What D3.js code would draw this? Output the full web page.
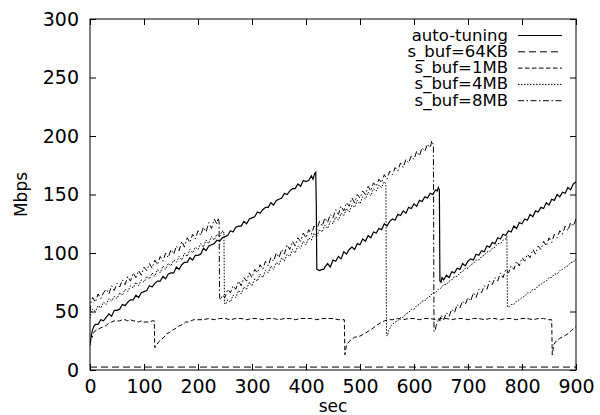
<!DOCTYPE html>
<html><head><meta charset="utf-8">
<script src="https://cdn.jsdelivr.net/npm/d3@7"></script>
<style>
html,body{margin:0;padding:0;background:#fff;}
svg{display:block;}
text{font-family:"DejaVu Sans",sans-serif;fill:#000;}
</style></head>
<body>
<svg id="chart" width="600" height="415"></svg>
<script>
// ---- data (sec, Mbps) ----
const xTicks = [0,100,200,300,400,500,600,700,800,900];
const yTicks = [0,50,100,150,200,250,300];
const seriesNames = ["auto-tuning","s_buf=64KB","s_buf=1MB","s_buf=4MB","s_buf=8MB"];

const autoTuning = [[0,21],[2,28],[4,33],[6,36],[8,38],[10,39],[15,39],[20,43],[25,42],[30,45],[35,48],[40,46],[45,51],[50,51],[55,52],[60,56],[65,55],[70,58],[75,60],[80,60],[85,64],[90,62],[95,66],[100,67],[105,68],[110,72],[115,71],[120,74],[125,76],[130,76],[135,80],[140,78],[145,82],[150,83],[155,83],[160,88],[165,86],[170,90],[175,92],[180,92],[185,96],[190,94],[195,98],[200,98],[205,99],[210,104],[215,102],[220,106],[225,107],[230,108],[235,111],[240,110],[245,113],[250,114],[255,115],[260,119],[265,118],[270,122],[275,123],[280,123],[285,127],[290,125],[295,129],[300,130],[305,131],[310,135],[315,134],[320,137],[325,139],[330,139],[335,143],[340,141],[345,145],[350,146],[355,147],[360,151],[365,150],[370,153],[375,155],[380,155],[385,159],[390,157],[395,162],[400,161],[405,162],[410,166],[413,163],[416,168],[418,169],[419,143],[420,86],[425,85],[430,86],[433,86],
[435,88],[440,91],[445,88],[450,94],[455,93],[460,97],[465,95],[470,101],[475,99],[480,103],[485,105],[490,103],[495,108],[500,107],[505,112],[510,110],[515,115],[520,113],[525,118],[530,117],[535,121],[540,120],[545,125],[550,123],[555,127],[560,129],[565,128],[570,133],[575,132],[580,136],[585,134],[590,139],[595,138],[600,142],[605,140],[610,145],[615,144],[620,148],[625,147],[630,151],[635,150],[640,154],[643,153],[645,156],[647,154],[648,76],[650,75],[652,79],[655,77],
[660,81],[665,79],[670,84],[675,83],[680,87],[685,86],[690,91],[695,89],[700,93],[705,95],[710,94],[715,99],[720,98],[725,102],[730,101],[735,106],[740,105],[745,109],[750,108],[755,113],[760,112],[765,116],[770,115],[775,119],[780,118],[785,123],[790,121],[795,126],[800,125],[805,129],[810,128],[815,133],[820,131],[825,136],[830,135],[835,139],[840,138],[845,143],[850,141],[855,146],[860,145],[865,150],[870,148],[875,152],[880,151],[885,156],[890,154],[895,159],[900,161]];

const buf64KB = [[0,2.5],[900,2.5]];

const buf1MB = [[1,30],[4,28],[8,33],[12,34],[16,35],[20,36],[25,37],[30,38],[35,40],[40,41],[45,42],[50,42],[55,42],[60,43],[65,43],[70,42],[75,43],[80,42],[85,42],[90,41],[95,42],[100,41],[105,41],[110,41],[115,42],[119,42],[120,19],[123,21],[127,24],[132,26],[137,28],[142,31],[147,32],[152,34],[157,35],[162,37],[167,38],[172,39],[177,41],[182,41],[187,42],[192,43],[200,43],[210,43],[220,44],[230,43],[240,44],[250,44],[260,43],[270,44],[280,44],[290,43],[300,44],[310,44],[320,43],[330,44],[340,44],[350,43],[360,44],[370,44],[380,43],[390,44],[400,44],[410,44],[420,43],[430,44],[440,44],[450,44],[460,43],[471,43],[472,13],[475,21],[479,24],[484,26],[490,28],[500,29],[508,31],[515,33],[522,35],[530,38],[537,40],[545,42],[552,43],[560,43],[570,44],[580,43],[590,44],[600,44],[610,43],[620,44],[630,44],[640,43],[650,44],[660,44],[670,43],[680,44],[690,44],[700,43],[710,44],[720,44],[730,43],[740,44],[750,44],[760,43],[770,44],[780,44],[790,43],[800,44],[810,44],[820,43],[830,44],[840,44],[849,43],[855,43],[856,13],[859,22],[864,25],[870,27],[878,29],[885,31],[892,34],[900,37]];

const buf4MB = [[0,44],[2,50],[5,52],[10,50],[15,55],[20,53],[25,58],[30,56],[35,61],[40,59],[45,63],[50,61],[55,66],[60,64],[65,69],[70,67],[75,72],[80,70],[85,75],[90,72],[95,77],[100,75],[105,80],[110,78],[115,83],[120,80],[125,86],[130,83],[135,89],[140,86],[145,91],[150,89],[155,94],[160,92],[165,97],[170,94],[175,100],[180,97],[185,103],[190,100],[195,105],[200,103],[205,108],[210,105],[215,111],[220,108],[225,114],[230,111],[235,116],[240,114],[245,119],[247,117],[248,118],[249,57],[251,56],
[255,60],[260,58],[265,64],[270,62],[275,68],[280,65],[285,71],[290,69],[295,75],[300,72],[305,78],[310,76],[315,82],[320,79],[325,85],[330,83],[335,89],[340,86],[345,92],[350,90],[355,96],[360,93],[365,99],[370,97],[375,103],[380,100],[385,106],[390,104],[395,110],[400,107],[405,113],[410,111],[415,117],[420,114],[425,120],[430,118],[435,124],[440,121],[445,127],[450,125],[455,131],[460,128],[465,134],[470,132],[475,138],[480,135],[485,141],[490,139],[495,145],[500,142],[505,148],[510,146],[515,152],[520,149],[525,155],[530,153],[535,158],[540,156],[545,161],[548,159],[549,30],[551,29],[553,34],[556,36],[558,38],
[560,39],[565,41],[570,42],[575,45],[580,45],[585,48],[590,49],[595,52],[600,52],[605,55],[610,56],[615,59],[620,59],[625,62],[630,63],[635,66],[640,66],[645,69],[650,70],[655,73],[660,73],[665,76],[670,77],[675,80],[680,80],[685,83],[690,84],[695,87],[700,87],[705,90],[710,91],[715,94],[720,94],[725,97],[730,98],[735,101],[740,101],[745,104],[750,105],[755,108],[760,108],[765,111],[770,112],[772,114],[773,54],[776,54],
[780,56],[785,56],[790,59],[795,60],[800,62],[805,63],[810,66],[815,66],[820,69],[825,69],[830,72],[835,73],[840,75],[845,76],[850,79],[855,79],[860,82],[865,82],[870,85],[875,86],[880,88],[885,89],[890,92],[895,92],[900,95]];

const buf8MB = [[0,50],[2,58],[5,62],[10,58],[15,65],[20,61],[25,66],[30,69],[35,65],[40,72],[45,68],[50,74],[55,71],[60,77],[65,73],[70,80],[75,76],[80,83],[85,79],[90,85],[95,81],[100,88],[105,85],[110,91],[115,87],[120,94],[125,90],[130,97],[135,93],[140,100],[145,96],[150,103],[155,99],[160,106],[165,102],[170,110],[175,105],[180,113],[185,109],[190,116],[195,112],[200,119],[205,115],[210,122],[215,118],[220,126],[225,121],[230,129],[235,125],[237,130],[239,127],[240,62],[242,60],
[245,64],[250,62],[255,69],[260,66],[265,72],[270,69],[275,76],[280,72],[285,79],[290,76],[295,83],[300,79],[305,86],[310,83],[315,90],[320,86],[325,93],[330,89],[335,96],[340,93],[345,100],[350,96],[355,103],[360,99],[365,107],[370,103],[375,110],[380,106],[385,113],[390,110],[395,117],[400,113],[405,120],[410,116],[415,123],[420,120],[425,127],[430,123],[435,130],[440,126],[445,133],[450,130],[455,137],[460,133],[465,140],[470,136],[475,143],[480,140],[485,147],[490,143],[495,150],[500,147],[505,153],[510,150],[515,157],[520,153],[525,160],[530,157],[535,163],[540,160],[545,167],[550,163],[555,170],[560,167],[565,173],[570,170],[575,177],[580,173],[585,180],[590,177],[595,183],[600,180],[605,187],[610,183],[615,190],[620,187],[625,193],[630,190],[633,196],[636,192],[637,33],[639,33],[641,38],[643,40],[646,44],[648,42],
[650,47],[655,43],[660,49],[665,46],[670,52],[675,49],[680,56],[685,53],[690,59],[695,56],[700,62],[705,59],[710,66],[715,62],[720,69],[725,66],[730,72],[735,69],[740,76],[745,73],[750,79],[755,76],[760,83],[765,79],[770,86],[775,83],[780,89],[785,86],[790,93],[795,89],[800,96],[805,93],[810,99],[815,96],[820,103],[825,99],[830,106],[835,103],[840,110],[845,106],[850,113],[855,109],[860,116],[865,113],[870,119],[875,116],[880,123],[885,119],[890,126],[895,123],[900,129]];

// ---- layout ----
const svg = d3.select("#chart");
const L = 90, R = 576, T = 19, B = 370;
const x = d3.scaleLinear().domain([0,900]).range([L,R]);
const y = d3.scaleLinear().domain([0,300]).range([B,T]);

const styles = [
  {data:autoTuning, dash:null, w:1.2},
  {data:buf64KB, dash:"7,4", w:1},
  {data:buf1MB, dash:"4.5,2.5", w:1},
  {data:buf4MB, dash:"1.5,1.5", w:1},
  {data:buf8MB, dash:"6,2.5,1.5,2.5", w:1}
];

svg.append("clipPath").attr("id","clip").append("rect")
  .attr("x",L).attr("y",T).attr("width",R-L).attr("height",B-T);

const line = d3.line().x(d=>x(d[0])).y(d=>y(d[1]));
const plot = svg.append("g").attr("clip-path","url(#clip)");
styles.forEach(s=>{
  plot.append("path").datum(s.data).attr("d",line)
    .attr("fill","none").attr("stroke","#000").attr("stroke-width",s.w)
    .attr("stroke-dasharray",s.dash);
});

// axes
const fs = 19;
const gx = svg.append("g").attr("transform",`translate(0,${B})`)
  .call(d3.axisBottom(x).tickValues(xTicks).tickSizeInner(-6).tickSizeOuter(0).tickPadding(9.5));
const gxt = svg.append("g").attr("transform",`translate(0,${T})`)
  .call(d3.axisTop(x).tickValues(xTicks).tickSizeInner(-6).tickSizeOuter(0).tickFormat(""));
const gy = svg.append("g").attr("transform",`translate(${L},0)`)
  .call(d3.axisLeft(y).tickValues(yTicks).tickSizeInner(-6).tickSizeOuter(0).tickPadding(11));
const gyr = svg.append("g").attr("transform",`translate(${R},0)`)
  .call(d3.axisRight(y).tickValues(yTicks).tickSizeInner(-6).tickSizeOuter(0).tickFormat(""));
[gx,gxt,gy,gyr].forEach(g=>{
  g.select(".domain").remove();
  g.selectAll("line").attr("stroke","#000").attr("stroke-width",1);
  g.selectAll("text").style("font-family","DejaVu Sans").style("font-size",fs+"px").attr("fill","#000");
});

svg.append("rect").attr("x",L).attr("y",T).attr("width",R-L).attr("height",B-T)
  .attr("fill","none").attr("stroke","#000").attr("stroke-width",1);

// labels
svg.append("text").attr("x",(L+R)/2).attr("y",412).attr("text-anchor","middle")
  .style("font-size","17px").text("sec");
svg.append("text").attr("transform",`translate(27,${(T+B)/2}) rotate(-90)`)
  .attr("text-anchor","middle").style("font-size","17px").text("Mbps");

// legend
const lg = svg.append("g");
styles.forEach((s,i)=>{
  const ly = 35.5 + 16.3*i;
  lg.append("text").attr("x",508).attr("y",ly+5).attr("text-anchor","end")
    .style("font-size","16.5px").text(seriesNames[i]);
  lg.append("line").attr("x1",518).attr("x2",562).attr("y1",ly).attr("y2",ly)
    .attr("stroke","#000").attr("stroke-width",1).attr("stroke-dasharray",s.dash);
});
</script>
</body></html>
